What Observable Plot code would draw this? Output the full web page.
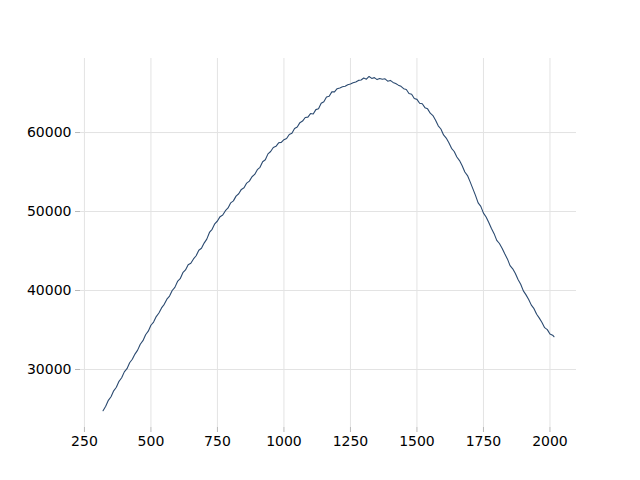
<!DOCTYPE html>
<html>
<head>
<meta charset="utf-8">
<script src="https://cdn.jsdelivr.net/npm/d3@7"></script>
<script src="https://cdn.jsdelivr.net/npm/@observablehq/plot@0.6"></script>
<style>
  html, body { margin: 0; padding: 0; background: #fff; }
  #chart svg { display: block; }
</style>
</head>
<body>
<div id="chart"></div>
<script>
const xs = [320,330,340,350,360,370,380,390,400,410,420,430,440,450,460,470,480,490,500,
510,520,530,540,550,560,570,580,590,600,610,620,630,640,650,660,670,680,690,700,
710,720,730,740,750,760,770,780,790,800,810,820,830,840,850,860,870,880,890,900,
910,920,930,940,950,960,970,980,990,1000,1010,1020,1030,1040,1050,1060,1070,1080,1090,1100,
1110,1120,1130,1140,1150,1160,1170,1180,1190,1200,1210,1220,1230,1240,1250,1260,1270,1280,1290,1300,
1310,1320,1330,1340,1350,1360,1370,1380,1390,1400,1410,1420,1430,1440,1450,1460,1470,1480,1490,1500,
1510,1520,1530,1540,1550,1560,1570,1580,1590,1600,1610,1620,1630,1640,1650,1660,1670,1680,1690,1700,
1710,1720,1730,1740,1750,1760,1770,1780,1790,1800,1810,1820,1830,1840,1850,1860,1870,1880,1890,1900,
1910,1920,1930,1940,1950,1960,1970,1980,1990,2000,2010,2015];

const ys = [24780,25350,26100,26550,27300,27750,28500,28950,29700,30100,30850,31300,31950,32450,33200,33650,34400,34850,35600,
36000,36700,37150,37800,38250,38900,39300,40000,40400,41150,41500,42250,42600,43250,43450,44000,44400,45100,45350,46000,
46500,47350,47750,48450,48800,49350,49550,50100,50450,51100,51350,51950,52250,52800,53000,53600,53850,54400,54700,55300,
55600,56300,56550,57300,57600,58100,58250,58700,58750,59100,59250,59750,59900,60500,60700,61250,61450,61900,61950,62400,
62350,62900,63000,63700,63900,64500,64600,65150,65150,65550,65650,65800,65850,66050,66150,66300,66400,66600,66650,66900,
66750,67100,66850,66950,66700,66850,66750,66800,66500,66600,66350,66200,66000,65850,65550,65450,64950,64850,64300,64200,
63700,63650,63150,63000,62450,62150,61550,60850,60450,59700,59300,58700,58000,57600,56900,56450,55800,55000,54550,53750,
52900,52050,51100,50650,49800,49300,48600,47850,47200,46350,45950,45350,44650,44000,43150,42750,42150,41400,40800,39950,
39450,38850,38150,37700,37000,36500,35950,35300,35050,34500,34350,34150];

const xTicks = [250, 500, 750, 1000, 1250, 1500, 1750, 2000];
const yTicks = [30000, 40000, 50000, 60000];

const data = xs.map((x, i) => ({x, y: ys[i]}));

const chart = Plot.plot({
  width: 640,
  height: 480,
  marginLeft: 80,
  marginRight: 64,
  marginTop: 58,
  marginBottom: 53,
  style: {fontFamily: "DejaVu Sans", fontSize: "14px", background: "#fff", color: "#000"},
  x: {domain: [235.25, 2099.75]},
  y: {domain: [22657, 69373]},
  marks: [
    Plot.gridX(xTicks, {stroke: "#e3e3e3", strokeOpacity: 1, strokeWidth: 1}),
    Plot.gridY(yTicks, {stroke: "#e3e3e3", strokeOpacity: 1, strokeWidth: 1}),
    Plot.axisX(xTicks, {tickSize: 5, tickPadding: 4, stroke: "#b8b8b8", fill: "#000", label: null, tickFormat: d => String(d)}),
    Plot.axisY(yTicks, {tickSize: 5, tickPadding: 4, stroke: "#b8b8b8", fill: "#000", label: null, tickFormat: d => String(d)}),
    Plot.line(data, {x: "x", y: "y", stroke: "#2b4a70", strokeWidth: 1.1})
  ]
});
document.getElementById("chart").appendChild(chart);
</script>
</body>
</html>
